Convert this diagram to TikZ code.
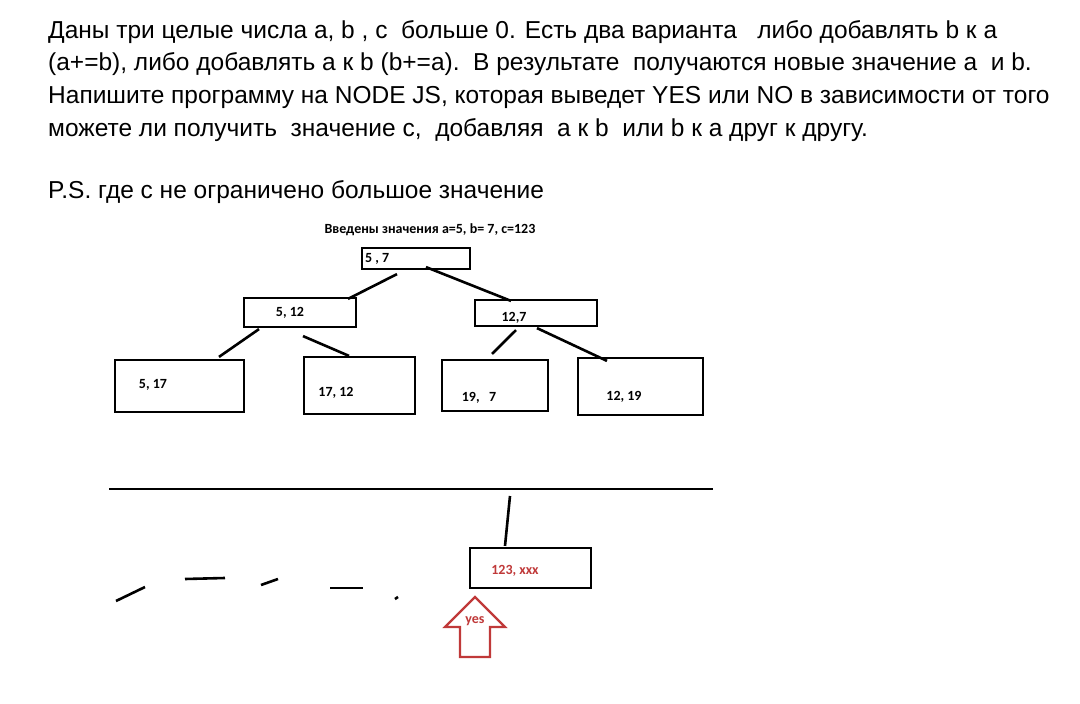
\documentclass[tikz,border=0pt]{standalone}
\usepackage{fontspec}
\setmainfont{Liberation Sans}
\newfontfamily\calib{Carlito}
\usetikzlibrary{calc}
\definecolor{redc}{RGB}{192,57,57}
\tikzset{
  para/.style={anchor=base west, inner sep=0pt, font=\fontsize{24.5}{28}\selectfont},
  box/.style={draw=black, line width=2.2pt, inner sep=0pt},
  lbl/.style={inner sep=0pt, font=\calib\bfseries\fontsize{14}{16}\selectfont},
  conn/.style={line width=2.6pt},
}
\begin{document}
\begin{tikzpicture}[x=1pt,y=-1pt]
\useasboundingbox (0,0) rectangle (1080,704);
\fill[white] (0,0) rectangle (1080,704);
% paragraph
\node[para] (t1) at (48,38) {Даны три целые числа a, b , c\ \ больше 0. Есть два варианта \ \ либо добавлять b к a};
\node[para] (t2) at (48,70) {(a+=b), либо добавлять a к b (b+=a).\ \ В результате\ \ получаются новые значение a\ \ и b.};
\node[para] (t3) at (48,103) {Напишите программу на NODE JS, которая выведет YES или NO в зависимости от того};
\node[para] (t4) at (48,136) {можете ли получить\ \ значение с,\ \ добавляя\ \ а к b\ \ или b к а друг к другу.};
\node[para] (t5) at (48,198) {P.S. где с не ограничено большое значение};
% title
\node[lbl] (title) at (430,230) {Введены значения a=5, b= 7, c=123};
% boxes
\node[box, minimum width=108pt, minimum height=21pt] (root) at (416,258.5) {};
\node[lbl, anchor=west] (troot) at (365,259) {5 , 7};
\node[box, minimum width=112pt, minimum height=29pt] (b512) at (300,312.5) {};
\node[lbl] (t512) at (290,313) {5, 12};
\node[box, minimum width=122pt, minimum height=26pt] (b127) at (536,313) {};
\node[lbl] (t127) at (514,318) {12,7};
\node[box, minimum width=129pt, minimum height=52pt] (b517) at (179.5,386) {};
\node[lbl] (t517) at (153,385) {5, 17};
\node[box, minimum width=111pt, minimum height=57pt] (b1712) at (359.5,385.5) {};
\node[lbl] (t1712) at (336,393) {17, 12};
\node[box, minimum width=106pt, minimum height=51pt] (b197) at (495,385.5) {};
\node[lbl] (t197) at (479,398) {19,\ \ \ 7};
\node[box, minimum width=125pt, minimum height=57pt] (b1219) at (640.5,386.5) {};
\node[lbl] (t1219) at (624,397) {12, 19};
% connectors
\draw[conn] ($(root.south)+(-19,4)$) -- ($(b512.north)+(48,2)$);
\draw[conn] ($(root.south)+(10,-3)$) -- ($(b127.north)+(-25,2)$);
\draw[conn] ($(b512.south)+(-41,1)$) -- ($(b517.north)+(39.5,-2)$);
\draw[conn] ($(b512.south)+(3,8)$) -- ($(b1712.north)+(-10.5,0)$);
\draw[conn] ($(b127.south)+(-20,3)$) -- ($(b197.north)+(-3,-5)$);
\draw[conn] ($(b127.south)+(1,1)$) -- ($(b1219.north)+(-33.5,4)$);
% bottom part
\coordinate (hl) at (109,489);
\coordinate (hr) at (713,489);
\draw[conn] (hl) -- (hr);
\node[box, minimum width=121pt, minimum height=40pt] (res) at (530.5,568) {};
\node[lbl, text=redc] (tres) at (515,571) {123, xxx};
\coordinate (vt) at (510,496);
\draw[conn] (vt) -- ($(res.north)+(-25.5,-1)$);
% dashes
\draw[conn] (116,601) -- (145,587);
\draw[conn] (185,579) -- (225,578);
\draw[conn] (261,585) -- (278,579);
\draw[conn] (330,588) -- (363,588);
\draw[conn] (395,599) -- (398,597);
% red arrow
\draw[redc, line width=2.2pt, line join=miter] (475,597) -- (505,627) -- (490,627) -- (490,657) -- (460,657) -- (460,627) -- (445,627) -- cycle;
\node[lbl, text=redc] (yes) at (475,621) {yes};
\end{tikzpicture}
\end{document}
